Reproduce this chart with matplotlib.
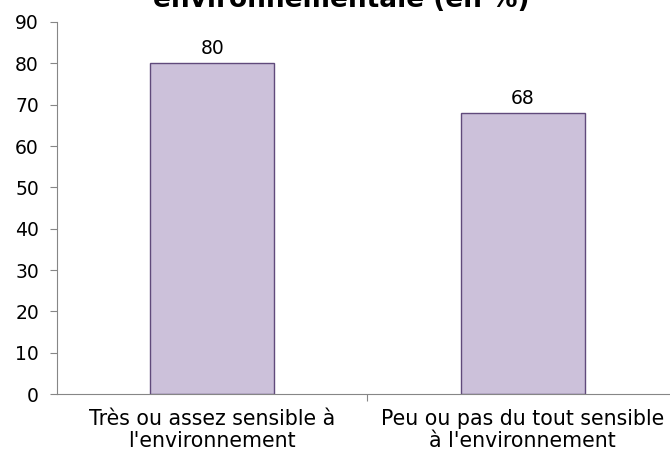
import matplotlib
matplotlib.use("Agg")
import matplotlib.pyplot as plt
import numpy as np

categories = ["Très ou assez sensible à\nl'environnement", "Peu ou pas du tout sensible\nà l'environnement"]
values = [80, 68]
yticks = [0, 10, 20, 30, 40, 50, 60, 70, 80, 90]
title = "environnementale (en %)"

plt.rcParams['font.family'] = ['DejaVu Sans']
fig = plt.figure(figsize=(6.7, 4.55), dpi=100)
ax = fig.add_axes([57/670, 61/455, (678-57)/670, (394-22)/455])
x = np.arange(len(values))
bars = ax.bar(x, values, width=0.4, color='#CCC1DA', edgecolor='#604A7B', linewidth=1)
for xi, v in zip(x, values):
    ax.text(xi, v + 1.3, str(v), ha='center', va='bottom', fontsize=13.5)
ax.set_xlim(-0.5, 1.5)
ax.set_ylim(0, 90)
ax.set_yticks(yticks)
ax.tick_params(axis='y', labelsize=13.5, length=5, color='#868686', pad=8)
ax.set_xticks([0.5, 1.5], minor=False)
ax.set_xticklabels([])
ax.set_xticks(x, minor=True)
ax.set_xticklabels(categories, minor=True, fontsize=14.8, linespacing=1.12)
ax.tick_params(axis='x', which='major', length=5, color='#868686')
ax.tick_params(axis='x', which='minor', length=0, pad=11)
for s in ['top', 'right']:
    ax.spines[s].set_visible(False)
for s in ['left', 'bottom']:
    ax.spines[s].set_color('#868686')
fig.text(0.51, 1.0 - 7/455, title, ha='center', va='baseline', fontsize=19, fontweight='bold')
fig.savefig('out.png', dpi=100)
